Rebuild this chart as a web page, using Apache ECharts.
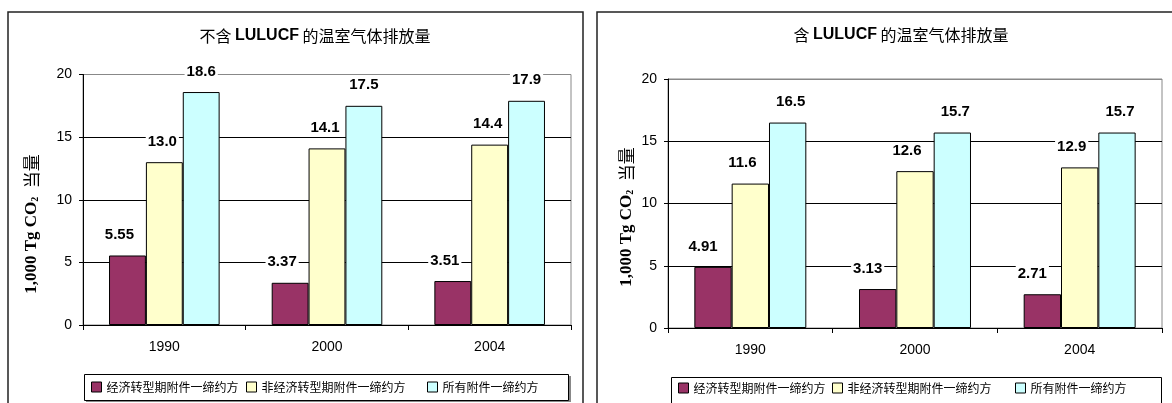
<!DOCTYPE html>
<html>
<head>
<meta charset="utf-8">
<script src="https://cdn.jsdelivr.net/npm/echarts@6/dist/echarts.min.js"></script>
<style>
  html, body { margin: 0; padding: 0; background: #fff; }
  #chart { width: 1172px; height: 403px; }
</style>
</head>
<body>
<div id="chart"></div>
<script>
// ---- data ----
const categories = ['1990', '2000', '2004'];
const seriesNames = ['经济转型期附件一缔约方', '非经济转型期附件一缔约方', '所有附件一缔约方'];
// 不含 LULUCF
const exclEIT = [5.55, 3.37, 3.51];
const exclNonEIT = [13.0, 14.1, 14.4];
const exclAll = [18.6, 17.5, 17.9];
// 含 LULUCF
const inclEIT = [4.91, 3.13, 2.71];
const inclNonEIT = [11.6, 12.6, 12.9];
const inclAll = [16.5, 15.7, 15.7];
const yMin = 0, yMax = 20, yInterval = 5;
const titles = ['不含 {b|LULUCF} 的温室气体排放量', '含 {b|LULUCF} 的温室气体排放量'];
const yName = '{t|1,000 Tg CO}{s|2}{t|  }{c|当量}';

// ---- styles ----
const colors = ['#993366', '#FFFFCC', '#CCFFFF'];
const SANS = 'Liberation Sans, Arial, sans-serif';
const CJK = 'Noto Sans CJK SC, sans-serif';
const SERIF = 'Liberation Serif, Times New Roman, serif';

const chart = echarts.init(document.getElementById('chart'), null, { renderer: 'canvas' });

const grids = [
  { left: 83, top: 74.5, width: 488, height: 250.5 },
  { left: 668, top: 79, width: 494, height: 249 }
];

function fmt(v) { return v >= 10 ? v.toFixed(1) : v.toFixed(2); }

const labelOffsets = [
  [[-8, 0], [-2, 0], [0, 0]],
  [[-10, 0], [-8, 0], [3, 0]]
];

const panelData = [
  [exclEIT, exclNonEIT, exclAll],
  [inclEIT, inclNonEIT, inclAll]
];

const series = [];
panelData.forEach((sets, p) => {
  sets.forEach((vals, i) => {
    series.push({
      type: 'bar',
      name: seriesNames[i],
      xAxisIndex: p,
      yAxisIndex: p,
      data: vals,
      barGap: '0%',
      barCategoryGap: '32%',
      itemStyle: { color: colors[i], borderColor: '#000', borderWidth: 1 },
      label: {
        show: true,
        position: 'top',
        distance: 12,
        offset: labelOffsets[p][i],
        formatter: (d) => fmt(d.value),
        fontFamily: SANS,
        fontWeight: 'bold',
        fontSize: 15,
        color: '#000',
        backgroundColor: '#fff',
        padding: [1, 2]
      },
      emphasis: { disabled: true },
      animation: false
    });
  });
});

function xAxis(idx) {
  return {
    type: 'category', gridIndex: idx, data: categories,
    axisLine: { lineStyle: { color: '#000', width: 1 } },
    axisTick: { show: true, alignWithLabel: false, length: 5, lineStyle: { color: '#000' } },
    axisLabel: { fontFamily: SANS, fontSize: 14, color: '#000', margin: 15 },
    splitLine: { show: false }
  };
}
function yAxis(idx) {
  return {
    type: 'value', gridIndex: idx, min: yMin, max: yMax, interval: yInterval,
    axisLine: { show: true, lineStyle: { color: '#000', width: 1 } },
    axisTick: { show: true, length: 4, lineStyle: { color: '#000' } },
    axisLabel: { fontFamily: SANS, fontSize: 14, color: '#000', margin: 11 },
    splitLine: { show: true, lineStyle: { color: ['#000', '#000', '#000', '#000', '#888'], width: 1 } }
  };
}

const legends = [];
const legendPos = [
  [[91, 381], [246, 381], [427, 381]],
  [[678, 382], [832, 382], [1015, 382]]
];
legendPos.forEach((pos) => {
  pos.forEach((xy, i) => {
    legends.push({
      data: [seriesNames[i]],
      left: xy[0], top: xy[1],
      padding: 0,
      icon: 'rect',
      itemWidth: 10, itemHeight: 10,
      itemStyle: { borderColor: '#000', borderWidth: 1 },
      textStyle: { fontFamily: CJK, fontSize: 12, color: '#000', padding: [0, 0, 0, 0] },
      selectedMode: false
    });
  });
});

const richTitle = {
  b: { fontFamily: SANS, fontWeight: 'bold', fontSize: 16, fill: '#000', color: '#000' }
};
const richY = {
  t: { fontFamily: SERIF, fontWeight: 'bold', fontSize: 17, color: '#000' },
  s: { fontFamily: SERIF, fontWeight: 'bold', fontSize: 10, color: '#000', verticalAlign: 'bottom', padding: [6, 0, 0, 0] },
  c: { fontFamily: CJK, fontWeight: 'normal', fontSize: 17, color: '#000' }
};

const graphic = [
  { type: 'rect', shape: { x: 8, y: 12, width: 575, height: 420 }, style: { fill: null, stroke: '#222', lineWidth: 1.5 }, z: -10, silent: true },
  { type: 'rect', shape: { x: 597, y: 12, width: 620, height: 420 }, style: { fill: null, stroke: '#222', lineWidth: 1.5 }, z: -10, silent: true },
  { type: 'rect', shape: { x: 86, y: 376, width: 485, height: 26 }, style: { fill: '#888', stroke: null }, z: -5, silent: true },
  { type: 'rect', shape: { x: 84.5, y: 374.5, width: 484, height: 26 }, style: { fill: '#fff', stroke: '#000', lineWidth: 1 }, z: -4, silent: true },
  { type: 'rect', shape: { x: 671.5, y: 377.5, width: 490, height: 40 }, style: { fill: '#fff', stroke: '#000', lineWidth: 1 }, z: -4, silent: true },
  { type: 'text', x: 315, y: 36, style: { text: titles[0], rich: richTitle, font: '16px ' + CJK, fill: '#000', align: 'center', verticalAlign: 'middle' }, silent: true },
  { type: 'text', x: 901, y: 35, style: { text: titles[1], rich: richTitle, font: '16px ' + CJK, fill: '#000', align: 'center', verticalAlign: 'middle' }, silent: true },
  { type: 'text', x: 32, y: 224, rotation: Math.PI / 2, style: { text: yName, rich: richY, fill: '#000', align: 'center', verticalAlign: 'middle' }, silent: true },
  { type: 'text', x: 627, y: 217, rotation: Math.PI / 2, style: { text: yName, rich: richY, fill: '#000', align: 'center', verticalAlign: 'middle' }, silent: true }
];

chart.setOption({
  backgroundColor: '#fff',
  animation: false,
  grid: grids.map(g => Object.assign({ show: true, borderColor: '#888', borderWidth: 1, backgroundColor: 'transparent' }, g)),
  xAxis: [xAxis(0), xAxis(1)],
  yAxis: [yAxis(0), yAxis(1)],
  legend: legends,
  series: series,
  graphic: graphic
});
</script>
</body>
</html>
